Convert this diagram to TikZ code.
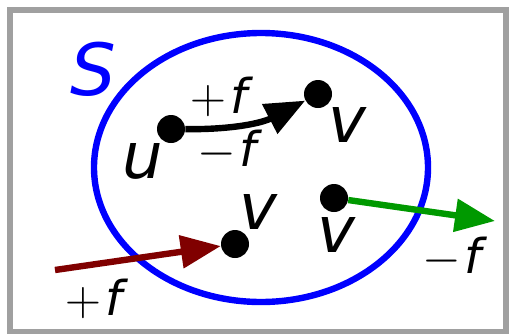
\documentclass[tikz,border=0pt]{standalone}
\usepackage{fontspec}
\setmainfont{DejaVu Sans}
\usepackage{tikz}
\usetikzlibrary{arrows.meta, positioning}
\definecolor{setblue}{HTML}{0000FF}
\definecolor{inred}{HTML}{800000}
\definecolor{outgreen}{HTML}{009900}
\definecolor{framegray}{HTML}{A0A0A0}
\newcommand{\opsign}[1]{{\fontsize{33}{33}\selectfont$#1$}\hspace{2pt}\textit{f}}

\begin{document}
\begin{tikzpicture}[x=0.5pt, y=-0.5pt,
    dot/.style={circle, fill=black, minimum size=14pt, inner sep=0pt},
    vlabel/.style={font=\fontsize{32}{32}\selectfont\itshape, inner sep=0pt},
    flabel/.style={font=\fontsize{24}{24}\selectfont, inner sep=0pt,
                   text height=18pt, text depth=0pt},
    flow/.style={line width=3.2pt, -{Triangle[length=20pt, width=16pt]}}]
    \useasboundingbox (0,0) rectangle (509,333);
    \clip (0,0) rectangle (509,333);

    % frame and set
    \draw[framegray, line width=3pt] (10,10) rectangle (506,332);
    \draw[setblue, line width=3.2pt] (261,167.5) ellipse [x radius=167, y radius=134.5];
    \node[font=\fontsize{36}{36}\selectfont\itshape, text=setblue, inner sep=0pt] (S) at (93,69) {S};

    % vertices
    \node[dot] (u) at (171,129) {};
    \node[dot] (v1) at (318,94) {};
    \node[dot] (v2) at (235,244) {};
    \node[dot] (v3) at (334,198) {};
    \coordinate (src) at (55,270);
    \coordinate (dst) at (495,221);

    \node[vlabel] (ulab) at (143,161) {u};
    \node[vlabel] (v1lab) at (347,125) {v};
    \node[vlabel] (v2lab) at (258,212) {v};
    \node[vlabel] (v3lab) at (336,235) {v};

    % flows
    \draw[flow] (u) to[bend right=14] (v1);
    \draw[flow, inred] (src) -- (v2);
    \draw[flow, outgreen] (v3) -- (dst);

    \node[flabel] (fin) at (222,95) {\opsign{+}};
    \node[flabel] (fout) at (230,148) {\opsign{-}};
    \node[flabel] (fred) at (97,297) {\opsign{+}};
    \node[flabel] (fgreen) at (455,255) {\opsign{-}};
\end{tikzpicture}
\end{document}
